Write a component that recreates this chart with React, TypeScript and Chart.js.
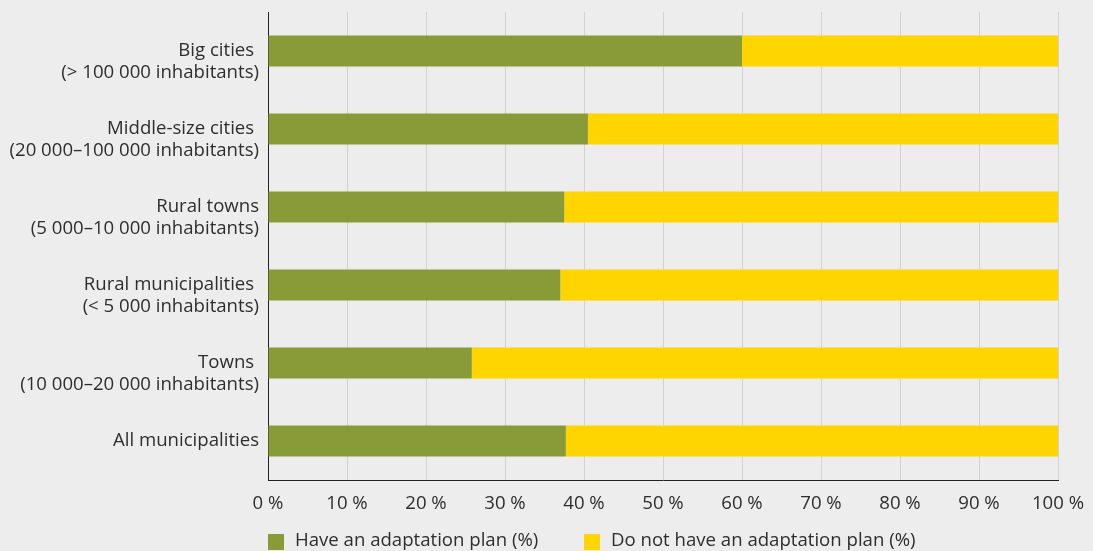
import React, { useEffect, useRef } from "react";
import { Chart, registerables } from "chart.js";

Chart.register(...registerables);

const categories: string[][] = [
  ["", "Big cities ", "(> 100 000 inhabitants)"],
  ["", "Middle-size cities ", "(20 000–100 000 inhabitants)"],
  ["", "Rural towns", "(5 000–10 000 inhabitants)"],
  ["", "Rural municipalities ", "(< 5 000 inhabitants)"],
  ["", "Towns ", "(10 000–20 000 inhabitants)"],
  ["All municipalities"],
];

const haveLabel = "Have an adaptation plan (%)";
const notLabel = "Do not have an adaptation plan (%)";

const haveValues = [60.0, 40.5, 37.5, 37.0, 25.8, 37.7];
const notValues = [40.0, 59.5, 62.5, 63.0, 74.2, 62.3];

const xTickValues = [0, 10, 20, 30, 40, 50, 60, 70, 80, 90, 100];

const GREEN = "#889b38";
const YELLOW = "#ffd500";
const TEXT = "#2e2e2e";
const FONT = "'Open Sans', 'Noto Sans', sans-serif";
const FONT_SIZE = 18.6;

const legendPlugin = {
  id: "customLegend",
  afterDraw(chart: any) {
    const { ctx, chartArea } = chart;
    const items = chart.data.datasets.map((d: any) => ({ label: d.label, color: d.backgroundColor }));
    const offsets = [0, 316];
    ctx.save();
    ctx.font = `${FONT_SIZE}px ${FONT}`;
    ctx.textBaseline = "middle";
    ctx.textAlign = "left";
    items.forEach((it: any, i: number) => {
      const x = chartArea.left + offsets[i];
      const y = 534;
      ctx.fillStyle = it.color;
      ctx.fillRect(x, y, 16, 16);
      ctx.fillStyle = TEXT;
      ctx.fillText(it.label, x + 27, y + 7);
    });
    ctx.restore();
  },
};

export default function App() {
  const canvasRef = useRef<HTMLCanvasElement | null>(null);

  useEffect(() => {
    if (!canvasRef.current) return;
    const chart = new Chart(canvasRef.current, {
      type: "bar",
      data: {
        labels: categories,
        datasets: [
          {
            label: haveLabel,
            data: haveValues,
            backgroundColor: GREEN,
            barPercentage: 0.4,
            categoryPercentage: 1.0,
          },
          {
            label: notLabel,
            data: notValues,
            backgroundColor: YELLOW,
            barPercentage: 0.4,
            categoryPercentage: 1.0,
          },
        ],
      },
      options: {
        indexAxis: "y",
        animation: false,
        responsive: false,
        maintainAspectRatio: false,
        layout: { padding: { top: 12, right: 35, bottom: 0, left: 0 } },
        plugins: {
          legend: { display: false },
          tooltip: { enabled: false },
        },
        scales: {
          x: {
            stacked: true,
            min: 0,
            max: 100,
            afterBuildTicks: (scale: any) => {
              scale.ticks = xTickValues.map((v) => ({ value: v }));
            },
            afterFit: (scale: any) => {
              scale.height = 71;
              scale.paddingLeft = 0;
              scale.paddingRight = 0;
            },
            grid: { color: "#d3d3d3", lineWidth: 1, drawTicks: false },
            border: { display: true, color: "#222222", width: 1 },
            ticks: {
              padding: 13,
              color: TEXT,
              font: { family: FONT, size: FONT_SIZE, lineHeight: 1.18 },
              callback: (v: any) => `${v} %`,
              maxRotation: 0,
            },
          },
          y: {
            stacked: true,
            afterFit: (scale: any) => {
              scale.width = 268;
              scale.paddingTop = 0;
              scale.paddingBottom = 0;
            },
            grid: { display: false, drawTicks: false },
            border: { display: true, color: "#222222", width: 1 },
            ticks: {
              padding: 9,
              color: TEXT,
              font: { family: FONT, size: FONT_SIZE, lineHeight: 1.18 },
              autoSkip: false,
            },
          },
        },
      },
      plugins: [legendPlugin],
    });
    return () => chart.destroy();
  }, []);

  return (
    <div
      style={{
        position: "fixed",
        left: 0,
        top: 0,
        width: 1093,
        height: 551,
        background: "#ededed",
      }}
    >
      <canvas ref={canvasRef} width={1093} height={551} style={{ display: "block" }} />
    </div>
  );
}
